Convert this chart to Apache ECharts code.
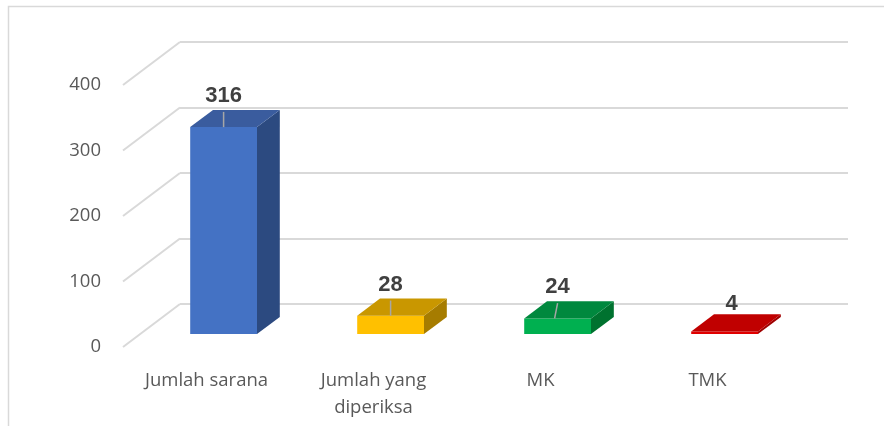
<!DOCTYPE html>
<html>
<head>
<meta charset="utf-8">
<script src="https://cdn.jsdelivr.net/npm/echarts@6/dist/echarts.min.js"></script>
<style>
  html, body { margin: 0; padding: 0; background: #ffffff; }
  #chart { width: 884px; height: 426px; }
</style>
</head>
<body>
<div id="chart"></div>
<script>
var categories = ["Jumlah sarana", "Jumlah yang\ndiperiksa", "MK", "TMK"];
var values = [316, 28, 24, 4];
var yTicks = [0, 100, 200, 300, 400];

// front / side / top colours for each bar
var frontColors = ["#4472C4", "#FFC000", "#00B050", "#E00000"];
var topColors = ["#3A5C9E", "#C99700", "#00883E", "#C00000"];
var sideColors = ["#2C4A80", "#A67C00", "#00722F", "#A00000"];

// 3d look: back wall offset from the front plane
var depthX = 57, depthY = -43;
var barPlane = 0.3;   // bar front face, as part of the depth
var barDepth = 0.4;   // bar thickness, as part of the depth
var barWidth = 0.4;   // part of the category band

var chart = echarts.init(document.getElementById("chart"));

function renderBar(params, api) {
  var i = api.value(0);
  var v = api.value(1);
  var base = api.coord([i, 0]);
  var top = api.coord([i, v]);
  var band = api.size([1, 0])[0];
  var w = band * barWidth;
  var ox = depthX * barPlane, oy = depthY * barPlane;
  var dx = depthX * barDepth, dy = depthY * barDepth;
  var x0 = base[0] + ox - w / 2, x1 = base[0] + ox + w / 2;
  var yb = base[1] + oy, yt = top[1] + oy;
  var children = [
    { type: "polygon", shape: { points: [[x0, yb], [x1, yb], [x1, yt], [x0, yt]] },
      style: { fill: frontColors[i] } },
    { type: "polygon", shape: { points: [[x1, yb], [x1 + dx, yb + dy], [x1 + dx, yt + dy], [x1, yt]] },
      style: { fill: sideColors[i] } },
    { type: "polygon", shape: { points: [[x0, yt], [x1, yt], [x1 + dx, yt + dy], [x0 + dx, yt + dy]] },
      style: { fill: topColors[i] } }
  ];
  var lx = base[0] + ox + (i === 3 ? 7 : 0);
  var ly = yt + dy - (i === 3 ? 10 : 14);
  if (i !== 3) {
    children.push({ type: "line",
      shape: { x1: lx, y1: ly + 16, x2: lx + (i === 2 ? -3 : 0), y2: yt },
      style: { stroke: "#A6A6A6", lineWidth: 1.5 } });
  }
  children.push({ type: "text",
    style: { text: String(v), x: lx, y: ly, align: "center", verticalAlign: "middle",
      fill: "#404040", font: "bold 22px 'Liberation Sans', Arial, sans-serif" } });
  return { type: "group", children: children };
}

function renderDiagonal(params, api) {
  var p = api.coord([0, api.value(0)]);
  var x = params.coordSys.x;
  return { type: "line",
    shape: { x1: x, y1: p[1], x2: x + depthX, y2: p[1] + depthY },
    style: { stroke: "#D9D9D9", lineWidth: 2 } };
}

var option = {
  animation: false,
  graphic: [{
    type: "polyline", silent: true,
    shape: { points: [[8.5, 430], [8.5, 6.5], [884, 6.5]] },
    style: { stroke: "#D9D9D9", lineWidth: 1.5, fill: null }
  }],
  grid: [
    { left: 123, right: 93, top: 85, bottom: 79 },
    { left: 123 + depthX, right: 93 - depthX, top: 85 + depthY, bottom: 79 - depthY }
  ],
  xAxis: [
    { type: "category", gridIndex: 0, data: categories,
      axisLine: { show: false }, axisTick: { show: false },
      axisLabel: { margin: 20, color: "#595959", fontSize: 18.5, lineHeight: 27,
        fontFamily: "'Open Sans', sans-serif" } },
    { type: "category", gridIndex: 1, data: categories, show: false }
  ],
  yAxis: [
    { type: "value", gridIndex: 0, min: 0, max: 400, interval: 100,
      axisLine: { show: false }, axisTick: { show: false }, splitLine: { show: false },
      axisLabel: { margin: 22, color: "#595959", fontSize: 18.5,
        fontFamily: "'Open Sans', sans-serif" } },
    { type: "value", gridIndex: 1, min: 0, max: 400, interval: 100,
      axisLine: { show: false }, axisTick: { show: false }, axisLabel: { show: false },
      splitLine: { lineStyle: { color: "#D9D9D9", width: 2 } } }
  ],
  series: [
    { type: "custom", xAxisIndex: 0, yAxisIndex: 0, renderItem: renderDiagonal,
      data: yTicks.map(function (t) { return [t]; }), silent: true, z: 1 },
    { type: "custom", xAxisIndex: 0, yAxisIndex: 0, renderItem: renderBar,
      data: values.map(function (v, i) { return [i, v]; }), z: 3 }
  ]
};
chart.setOption(option);
</script>
</body>
</html>
